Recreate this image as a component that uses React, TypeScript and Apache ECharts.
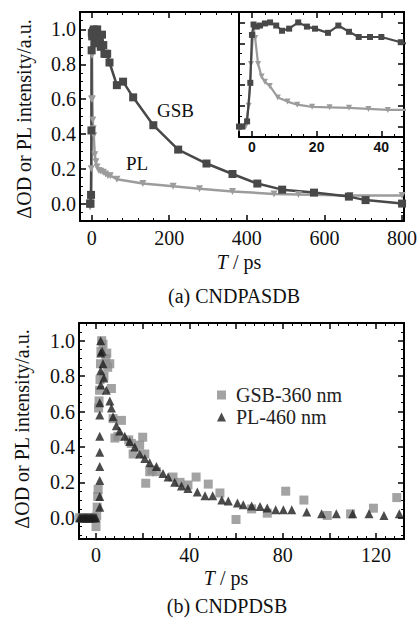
import React, { useEffect, useRef } from "react";
import * as echarts from "echarts";

// ---------- (a) CNDPASDB ----------
const gsbTimeA = [-4, -3, -1.5, -0.5, 0, 0.5, 1.5, 2.5, 4, 5.6, 7.5, 9.3, 11.5, 14.3, 17, 19.5, 23.5, 26.7, 30, 33, 36.5, 40, 46, 65, 81, 107, 159, 223, 296, 363, 427, 491, 573, 663, 706, 800];
const gsbValueA = [0.0, 0.0, 0.05, 0.42, 0.88, 0.98, 0.96, 0.97, 0.99, 1.0, 0.97, 0.92, 0.94, 1.0, 0.96, 0.94, 0.9, 0.97, 0.91, 0.86, 0.86, 0.86, 0.81, 0.68, 0.7, 0.61, 0.45, 0.31, 0.23, 0.17, 0.115, 0.08, 0.063, 0.04, 0.02, 0.0];
const plTimeA = [-4, -2, -1, -0.3, 0.5, 1, 1.9, 3, 4, 5.5, 8, 11, 14, 18.6, 24, 30, 36, 42, 48, 65, 132, 210, 278, 363, 470, 533, 666, 800];
const plValueA = [-0.02, 0.0, 0.2, 0.6, 0.96, 0.85, 0.6, 0.48, 0.43, 0.39, 0.28, 0.24, 0.21, 0.19, 0.185, 0.18, 0.17, 0.16, 0.16, 0.14, 0.115, 0.1, 0.085, 0.07, 0.055, 0.052, 0.046, 0.046];

// ---------- (b) CNDPDSB ----------
const gsbTimeB = [-7, -6, -5, -4, -3, -2, -1, 0.0, 0.3, 0.5, 0.7, 0.9, 1.1, 1.3, 1.5, 1.7, 1.9, 2.1, 2.4, 3.0, 3.4, 4.2, 4.6, 5.0, 5.9, 6.6, 7.3, 8.1, 9.4, 10.9, 14.0, 15.1, 15.9, 18.7, 20.0, 20.9, 21.3, 23.0, 24.0, 25.9, 33.0, 36.0, 39.4, 42.9, 48.1, 53.1, 60.0, 66.7, 73.4, 81.3, 89.1, 99.1, 109.1, 118.9, 128.9];
const gsbValueB = [0, 0, 0, 0, 0, 0, 0, -0.05, 0.01, 0.06, 0.12, 0.16, 0.62, 0.66, 0.72, 0.78, 0.87, 0.94, 1.0, 0.98, 0.8, 0.9, 0.93, 0.85, 0.87, 0.73, 0.56, 0.45, 0.46, 0.55, 0.44, 0.42, 0.36, 0.41, 0.455, 0.36, 0.195, 0.26, 0.27, 0.26, 0.23, 0.2, 0.185, 0.23, 0.19, 0.14, -0.01, 0.05, 0.026, 0.15, 0.1, 0.013, 0.022, 0.054, 0.114];
const plTimeB = [-7, -6.5, -6, -5.5, -5, -4.5, -4, -3.5, -3, -2.5, -2, -1.5, -1, -0.5, 0, 1.6, 1.6, 1.6, 1.6, 1.6, 1.6, 1.6, 1.6, 2.0, 2.0, 2.0, 2.0, 2.6, 3.0, 3.4, 4.4, 5.9, 6.6, 7.3, 8.7, 10.1, 12.3, 14.4, 16.6, 18.7, 20.9, 23.0, 25.9, 28.7, 30.9, 33.7, 36.6, 39.4, 43.4, 46.7, 50.0, 53.9, 56.7, 60.6, 63.1, 66.7, 70.3, 73.4, 77.0, 80.3, 83.9, 90.3, 96.7, 103.0, 110.0, 117.0, 123.4, 130.0];
const plValueB = [0, 0, 0, 0, 0, 0, 0, 0, 0, 0, 0, 0, 0, 0, 0, 0.06, 0.12, 0.21, 0.29, 0.37, 0.46, 0.58, 0.65, 0.75, 0.83, 0.93, 1.0, 0.94, 0.87, 0.79, 0.72, 0.66, 0.62, 0.57, 0.52, 0.49, 0.46, 0.43, 0.4, 0.36, 0.335, 0.31, 0.29, 0.25, 0.23, 0.2, 0.18, 0.165, 0.145, 0.124, 0.124, 0.1, 0.095, 0.083, 0.073, 0.067, 0.064, 0.055, 0.045, 0.045, 0.045, 0.032, 0.022, 0.022, 0.022, 0.022, 0.013, 0.022];

const yAxisName = "ΔOD or PL intensity/a.u.";
const titleA = "(a) CNDPASDB";
const titleB = "(b) CNDPDSB";
const seriesNamesB = ["GSB-360 nm", "PL-460 nm"];

const SERIF = "'Liberation Serif','Times New Roman',serif";
const SANS = "'Liberation Sans',Arial,sans-serif";

const pairs = (xs: number[], ys: number[]) => xs.map((x, i) => [x, ys[i]]);

function makeAxis(opts: any) {
  const {
    gridIndex, position, min, max, splitNumber, minorSplit, showLabel, formatter,
    z = 0, labelFont = SERIF, labelSize = 20, labelMargin = 6, labelWeight = "normal",
  } = opts;
  return {
    type: "value",
    gridIndex,
    position,
    min,
    max,
    splitNumber,
    z,
    axisLine: { show: true, onZero: false, lineStyle: { color: "#000", width: 2 } },
    axisTick: { show: true, inside: true, length: 6, lineStyle: { color: "#000", width: 1.5 } },
    minorTick: { show: minorSplit > 1, splitNumber: minorSplit, length: 3, lineStyle: { color: "#000", width: 1 } },
    splitLine: { show: false },
    minorSplitLine: { show: false },
    axisLabel: {
      show: showLabel,
      showMinLabel: false,
      showMaxLabel: false,
      margin: labelMargin,
      color: "#111",
      fontFamily: labelFont,
      fontSize: labelSize,
      fontWeight: labelWeight,
      formatter,
    },
  };
}

export default function App() {
  const ref = useRef<HTMLDivElement>(null);
  useEffect(() => {
    if (!ref.current) return;
    const chart = echarts.init(ref.current, undefined, { renderer: "svg" });
    const yFmt = (v: number) => v.toFixed(1);
    const xFmtA = (v: number) => String(Math.round(v));
    const xFmtB = (v: number) => (Math.abs(v % 40) < 1e-6 ? String(Math.round(v)) : "");
    const xFmtIn = (v: number) => String(Math.round(v));
    const richT = {
      i: { fontFamily: SERIF, fontSize: 20, fontStyle: "italic", fill: "#111" },
      n: { fontFamily: SERIF, fontSize: 20, fill: "#111" },
    };

    const option: any = {
      animation: false,
      backgroundColor: "#fff",
      grid: [
        { left: 80, top: 12, width: 324, height: 209, containLabel: false, outerBoundsMode: "none" },
        { left: 239, top: 12, width: 165, height: 125, containLabel: false, outerBoundsMode: "none", show: true, backgroundColor: "#fff", borderWidth: 0, z: 3 },
        { left: 79, top: 323, width: 325, height: 216, containLabel: false, outerBoundsMode: "none" },
      ],
      xAxis: [
        makeAxis({ gridIndex: 0, position: "bottom", min: -30, max: 805, splitNumber: 5, minorSplit: 5, showLabel: true, formatter: xFmtA, labelMargin: 7 }),
        makeAxis({ gridIndex: 0, position: "top", min: -30, max: 805, splitNumber: 5, minorSplit: 5, showLabel: false }),
        makeAxis({ gridIndex: 1, position: "bottom", min: -4, max: 47, splitNumber: 3, minorSplit: 5, showLabel: true, formatter: xFmtIn, z: 4, labelFont: SANS, labelSize: 14, labelMargin: 3, labelWeight: "bold" }),
        makeAxis({ gridIndex: 1, position: "top", min: -4, max: 47, splitNumber: 3, minorSplit: 5, showLabel: false, z: 4 }),
        makeAxis({ gridIndex: 2, position: "bottom", min: -7.3, max: 132, splitNumber: 7, minorSplit: 5, showLabel: true, formatter: xFmtB, labelMargin: 6 }),
        makeAxis({ gridIndex: 2, position: "top", min: -7.3, max: 132, splitNumber: 7, minorSplit: 5, showLabel: false }),
      ],
      yAxis: [
        makeAxis({ gridIndex: 0, position: "left", min: -0.1, max: 1.1, splitNumber: 5, minorSplit: 4, showLabel: true, formatter: yFmt, labelMargin: 4 }),
        makeAxis({ gridIndex: 0, position: "right", min: -0.1, max: 1.1, splitNumber: 5, minorSplit: 4, showLabel: false }),
        makeAxis({ gridIndex: 1, position: "left", min: -0.1, max: 1.1, splitNumber: 5, minorSplit: 2, showLabel: false, z: 4 }),
        makeAxis({ gridIndex: 1, position: "right", min: -0.1, max: 1.1, splitNumber: 5, minorSplit: 2, showLabel: false, z: 4 }),
        makeAxis({ gridIndex: 2, position: "left", min: -0.12, max: 1.1, splitNumber: 5, minorSplit: 4, showLabel: true, formatter: yFmt, labelMargin: 4 }),
        makeAxis({ gridIndex: 2, position: "right", min: -0.12, max: 1.1, splitNumber: 5, minorSplit: 4, showLabel: false }),
      ],
      legend: {
        data: seriesNamesB,
        orient: "vertical",
        left: 212,
        top: 380,
        itemWidth: 9,
        itemHeight: 9,
        itemGap: 2,
        textStyle: { fontFamily: SERIF, fontSize: 20, color: "#222", padding: [0, 0, 0, 5] },
      },
      series: [
        {
          name: "PL", type: "line", xAxisIndex: 0, yAxisIndex: 0,
          data: pairs(plTimeA, plValueA),
          symbol: "triangle", symbolRotate: 180, symbolSize: 7,
          itemStyle: { color: "#9c9c9c" }, lineStyle: { color: "#9c9c9c", width: 2.5 },
        },
        {
          name: "GSB", type: "line", xAxisIndex: 0, yAxisIndex: 0,
          data: pairs(gsbTimeA, gsbValueA),
          symbol: "rect", symbolSize: 8,
          itemStyle: { color: "#484848" }, lineStyle: { color: "#484848", width: 2.5 },
        },
        {
          name: "PL inset", type: "line", xAxisIndex: 2, yAxisIndex: 2, z: 5,
          data: pairs(plTimeA, plValueA),
          symbol: "triangle", symbolRotate: 180, symbolSize: 6,
          itemStyle: { color: "#9c9c9c" }, lineStyle: { color: "#9c9c9c", width: 2.2 },
        },
        {
          name: "GSB inset", type: "line", xAxisIndex: 2, yAxisIndex: 2, z: 6,
          data: pairs(gsbTimeA, gsbValueA),
          symbol: "rect", symbolSize: 6,
          itemStyle: { color: "#484848" }, lineStyle: { color: "#484848", width: 2.2 },
        },
        {
          name: seriesNamesB[0], type: "scatter", xAxisIndex: 4, yAxisIndex: 4,
          data: pairs(gsbTimeB, gsbValueB),
          symbol: "rect", symbolSize: 9,
          itemStyle: { color: "#8c8c8c" },
        },
        {
          name: seriesNamesB[1], type: "scatter", xAxisIndex: 4, yAxisIndex: 4,
          data: pairs(plTimeB, plValueB),
          symbol: "triangle", symbolSize: 9,
          itemStyle: { color: "#1e1e1e" },
        },
      ],
      graphic: [
        { type: "text", x: 24, y: 119, rotation: Math.PI / 2, style: { text: yAxisName, font: `20px ${SERIF}`, fill: "#111", align: "center", verticalAlign: "middle" } },
        { type: "text", x: 22, y: 429, rotation: Math.PI / 2, style: { text: yAxisName, font: `20px ${SERIF}`, fill: "#111", align: "center", verticalAlign: "middle" } },
        { type: "text", x: 157, y: 110, style: { text: "GSB", font: `19px ${SERIF}`, fill: "#111", align: "left", verticalAlign: "middle" } },
        { type: "text", x: 126, y: 163, style: { text: "PL", font: `19px ${SERIF}`, fill: "#111", align: "left", verticalAlign: "middle" } },
        { type: "text", x: 239, y: 262, style: { text: "{i|T}{n| / ps}", align: "center", verticalAlign: "middle", fill: "#111", rich: richT } },
        { type: "text", x: 226, y: 578, style: { text: "{i|T}{n| / ps}", align: "center", verticalAlign: "middle", fill: "#111", rich: richT } },
        { type: "text", x: 234, y: 296, style: { text: titleA, font: `20px ${SERIF}`, fill: "#111", align: "center", verticalAlign: "middle" } },
        { type: "text", x: 227, y: 606, style: { text: titleB, font: `20px ${SERIF}`, fill: "#111", align: "center", verticalAlign: "middle" } },
      ],
    };
    chart.setOption(option);
    return () => chart.dispose();
  }, []);
  return <div ref={ref} style={{ position: "absolute", left: 0, top: 0, width: 417, height: 619 }} />;
}
